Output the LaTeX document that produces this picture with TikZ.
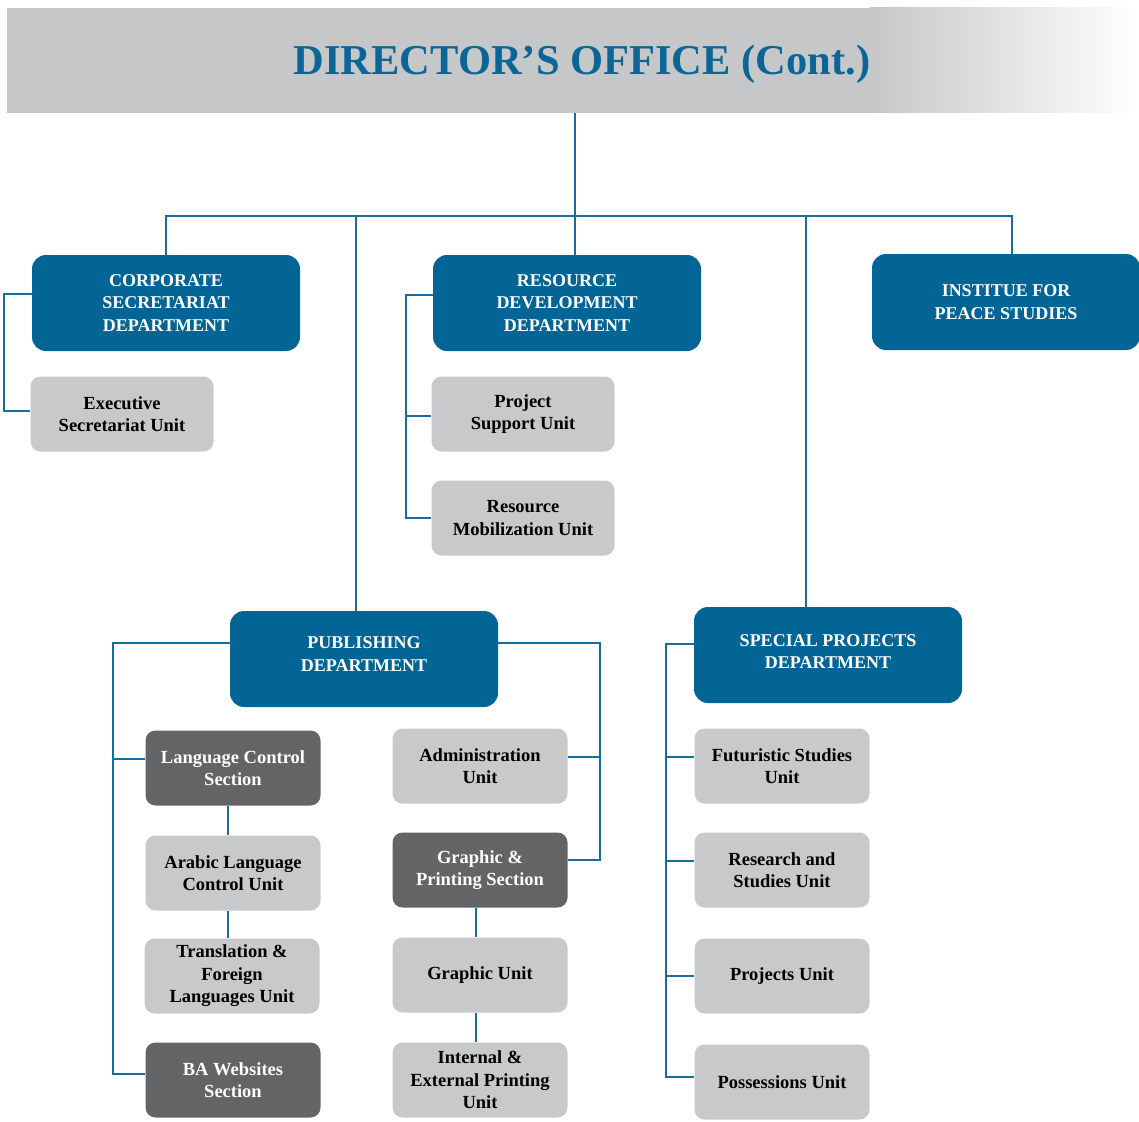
\documentclass[tikz,border=0pt]{standalone}
\usepackage{fontspec}
\setmainfont{Liberation Serif}
\usepackage{xcolor}
\usepackage{tikz}
\usetikzlibrary{positioning}

\definecolor{deptblue}{RGB}{3,101,149}
\definecolor{linkblue}{RGB}{24,108,158}
\definecolor{titleblue}{RGB}{11,102,151}
\definecolor{headgray}{RGB}{198,199,201}
\definecolor{unitgray}{RGB}{200,201,203}
\definecolor{secgray}{RGB}{99,100,102}

\tikzset{
    deptbox/.style={rectangle, rounded corners=14pt, fill=deptblue, text=white,
        minimum width=268pt, minimum height=96pt, align=center,
        font=\fontsize{18}{22.5}\selectfont\bfseries},
    unitbox/.style={rectangle, rounded corners=10pt, fill=unitgray, text=black,
        minimum width=175pt, minimum height=75pt, align=center,
        font=\fontsize{18.5}{22.5}\selectfont\bfseries},
    wideunit/.style={unitbox, minimum width=183pt},
    secbox/.style={unitbox, fill=secgray, text=white},
    link/.style={draw=linkblue, line width=2pt}
}

\begin{document}
\begin{tikzpicture}[x=1pt, y=-1pt]
        \useasboundingbox (0,0) rectangle (1139,1121);

        % header band
        \fill[headgray] (7,8) rectangle (871,113);
        \shade[left color=headgray, right color=white] (870,8) rectangle (1139,113);
        \node[anchor=base, text=titleblue, font=\fontsize{42.5}{50}\selectfont\bfseries]
            (title) at (582,75) {DIRECTOR’S OFFICE (Cont.)};
        \coordinate (headbot) at (575,113);
        \coordinate (barmid)  at (575,216);

        % departments
        \node[deptbox] (csd) at (166,303)  {CORPORATE\\SECRETARIAT\\DEPARTMENT};
        \node[deptbox] (rdd) at (567,303)  {RESOURCE\\DEVELOPMENT\\DEPARTMENT};
        \node[deptbox] (ips) at (1006,302) {INSTITUE FOR\\PEACE STUDIES};
        \node[deptbox] (pub) at (364,659)  {PUBLISHING\\DEPARTMENT\\[-12.5pt]};
        \node[deptbox] (spd) at (828,655)  {SPECIAL PROJECTS\\DEPARTMENT\\[-15.5pt]};

        % units
        \node[wideunit] (exe) at (122,414) {Executive\\Secretariat Unit};
        \node[wideunit] (sup) at (523,414) {Project\\Support Unit};
        \node[wideunit] (mob) at (523,518) {Resource\\Mobilization Unit};

        \node[secbox]  (lcs) at (233,768)  {Language Control\\Section};
        \node[unitbox] (alc) at (233,873)  {Arabic Language\\Control Unit};
        \node[unitbox] (tfl) at (232,976)  {Translation \&\\Foreign\\Languages Unit};
        \node[secbox]  (bas) at (233,1080) {BA Websites\\Section};

        \node[unitbox] (adm) at (480,766)  {Administration\\Unit};
        \node[secbox]  (gps) at (480,870)  {Graphic \&\\Printing Section};
        \node[unitbox] (gru) at (480,975)  {Graphic Unit};
        \node[unitbox] (iep) at (480,1080) {Internal \&\\External Printing\\Unit};

        \node[unitbox] (fut) at (782,766)  {Futuristic Studies\\Unit};
        \node[unitbox] (res) at (782,870)  {Research and\\Studies Unit};
        \node[unitbox] (prj) at (782,976)  {Projects Unit};
        \node[unitbox] (pos) at (782,1082) {Possessions Unit};

        % top level
        \draw[link] (headbot) -- (barmid);
        \draw[link] (csd.north) |- (barmid) -| ([xshift=6pt]ips.north);
        \draw[link] ([xshift=8pt]rdd.north) -- ([xshift=8pt]rdd.north |- barmid);
        \draw[link] ([xshift=-8pt]pub.north) -- ([xshift=-8pt]pub.north |- barmid);
        \draw[link] ([xshift=-22pt]spd.north) -- ([xshift=-22pt]spd.north |- barmid);

        % corporate secretariat
        \draw[link] ([yshift=9pt]csd.west) -- ++(-28,0) |- ([yshift=3pt]exe.west);

        % resource development
        \draw[link] ([yshift=8pt]rdd.west) -- ++(-27,0) coordinate (rddspine) |- (mob.west);
        \draw[link] ([yshift=-2pt]sup.west) -- ([yshift=-2pt]sup.west -| rddspine);

        % publishing
        \draw[link] ([yshift=16pt]pub.west) -- ++(-117,0) coordinate (publeft) |- ([yshift=6pt]bas.west);
        \draw[link] ([yshift=9pt]lcs.west) -- ([yshift=9pt]lcs.west -| publeft);
        \draw[link] ([yshift=16pt]pub.east) -- ++(102,0) coordinate (pubright) |- ([yshift=10pt]gps.east);
        \draw[link] ([yshift=9pt]adm.east) -- ([yshift=9pt]adm.east -| pubright);
        \draw[link] ([xshift=-5pt]lcs.south) -- ([xshift=-5pt]alc.north);
        \draw[link] ([xshift=-5pt]alc.south) -- ([xshift=-4pt]tfl.north);
        \draw[link] ([xshift=-4pt]gps.south) -- ([xshift=-4pt]gru.north);
        \draw[link] ([xshift=-4pt]gru.south) -- ([xshift=-4pt]iep.north);

        % special projects
        \draw[link] ([yshift=11pt]spd.west) -- ++(-28,0) coordinate (spdspine) |- ([yshift=5pt]pos.west);
        \draw[link] ([yshift=9pt]fut.west) -- ([yshift=9pt]fut.west -| spdspine);
        \draw[link] ([yshift=9pt]res.west) -- ([yshift=9pt]res.west -| spdspine);
        \draw[link] (prj.west) -- (prj.west -| spdspine);
\end{tikzpicture}
\end{document}
